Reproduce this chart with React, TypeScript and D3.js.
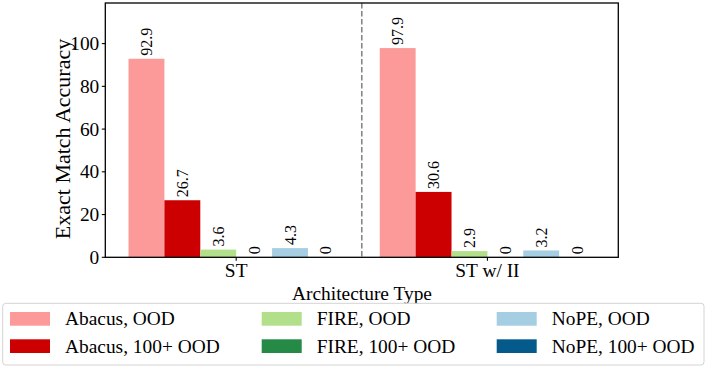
import React from 'react';
import * as d3 from 'd3';

// data
const architectures = ['ST', 'ST w/ II'];
const seriesNames = ['Abacus, OOD', 'Abacus, 100+ OOD', 'FIRE, OOD', 'FIRE, 100+ OOD', 'NoPE, OOD', 'NoPE, 100+ OOD'];
const seriesColors = ['#fb9a99', '#cc0000', '#b2df8a', '#248a45', '#a6cee3', '#055a8c'];
const stValues = [92.9, 26.7, 3.6, 0, 4.3, 0];
const stIIValues = [97.9, 30.6, 2.9, 0, 3.2, 0];
const yTicks = [0, 20, 40, 60, 80, 100];

const W = 707;
const H = 369;
const font = '"Liberation Serif", "Times New Roman", serif';

const margin = { left: 105.3, right: 618.3, top: 3, bottom: 257.3 };
const barW = 1 / 7;

export default function App() {
  const values = [stValues, stIIValues];
  const x = d3.scaleLinear().domain([-0.521, 1.521]).range([margin.left, margin.right]);
  const y = d3.scaleLinear().domain([0, 119]).range([margin.bottom, margin.top]);
  const bw = x(barW) - x(0);

  return (
    <svg width={W} height={H} style={{ position: 'absolute', left: 0, top: 0 }} fontFamily={font}>
      <rect width={W} height={H} fill="#fff" />
      {/* bars and value labels */}
      {values.map((vals, g) =>
        vals.map((v, i) => {
          const cx = x(g + (i - 2.5) * barW);
          const top = y(v);
          return (
            <g key={`${g}-${i}`}>
              <rect x={cx - bw / 2} y={top} width={bw} height={y(0) - top} fill={seriesColors[i]} />
              <text
                transform={`translate(${cx},${top - 3}) rotate(-90)`}
                fontSize={16}
                dominantBaseline="central"
                textAnchor="start"
                fill="#000"
              >
                {v === 0 ? '0' : v.toFixed(1)}
              </text>
            </g>
          );
        })
      )}
      {/* separator */}
      <line x1={x(0.5)} x2={x(0.5)} y1={margin.top} y2={margin.bottom} stroke="#808080" strokeWidth={1.5} strokeDasharray="5.5,2.5" />
      {/* frame */}
      <rect
        x={margin.left}
        y={margin.top}
        width={margin.right - margin.left}
        height={margin.bottom - margin.top}
        fill="none"
        stroke="#000"
        strokeWidth={1.3}
      />
      {/* y axis */}
      {yTicks.map((t) => (
        <g key={t}>
          <line x1={margin.left - 3.5} x2={margin.left} y1={y(t)} y2={y(t)} stroke="#000" strokeWidth={1.1} />
          <text x={margin.left - 6} y={y(t)} fontSize={19.4} textAnchor="end" dominantBaseline="central">
            {t}
          </text>
        </g>
      ))}
      <text transform={`translate(70,139) rotate(-90)`} fontSize={22} textAnchor="middle">
        Exact Match Accuracy
      </text>
      {/* x axis */}
      {architectures.map((a, g) => (
        <g key={a}>
          <line x1={x(g)} x2={x(g)} y1={margin.bottom} y2={margin.bottom + 3.5} stroke="#000" strokeWidth={1.1} />
          <text x={x(g)} y={277} fontSize={19.4} textAnchor="middle">
            {a}
          </text>
        </g>
      ))}
      <text x={362} y={300} fontSize={19.4} textAnchor="middle">
        Architecture Type
      </text>
      {/* legend */}
      <rect x={2.7} y={303.3} width={701.3} height={61.7} rx={3} fill="#fff" fillOpacity={0.8} stroke="#d4d4d4" strokeWidth={1} />
      {seriesNames.map((name, i) => {
        const col = Math.floor(i / 2);
        const row = i % 2;
        const sx = [10, 261.7, 496.7][col];
        const sy = [312, 339.3][row];
        return (
          <g key={name}>
            <rect x={sx} y={sy} width={40} height={13.7} fill={seriesColors[i]} />
            <text x={sx + 55} y={sy + 13.3} fontSize={19.4}>
              {name}
            </text>
          </g>
        );
      })}
    </svg>
  );
}
